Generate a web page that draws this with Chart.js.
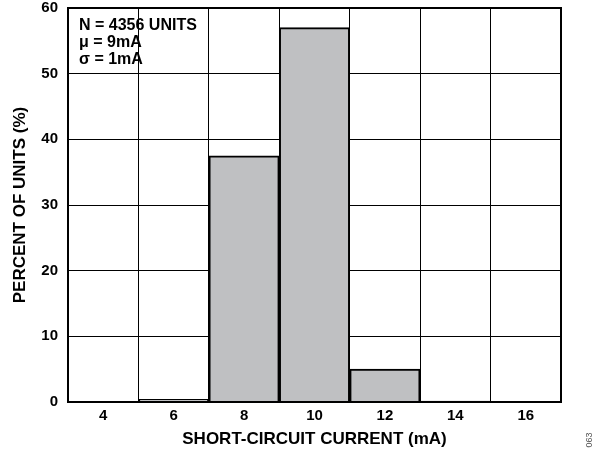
<!DOCTYPE html>
<html><head><meta charset="utf-8">
<script src="https://cdn.jsdelivr.net/npm/chart.js@4"></script>
<style>html,body{margin:0;padding:0;background:#fff}#w{width:605px;height:454px}</style>
</head><body><div id="w"><canvas id="c" width="605" height="454"></canvas></div>
<script>
const categories = ['4', '6', '8', '10', '12', '14', '16'];
const percentUnits = [0, 0.4, 37.5, 57, 5, 0.15, 0];
const yTicks = [0, 10, 20, 30, 40, 50, 60];
const noteLines = ['N = 4356 UNITS', 'μ = 9mA', 'σ = 1mA'];
const xTitle = 'SHORT-CIRCUIT CURRENT (mA)';
const yTitle = 'PERCENT OF UNITS (%)';
const figId = '063';

const FONT = "'Liberation Sans', Arial, sans-serif";

const extras = {
  id: 'extras',
  afterDraw(chart) {
    const ctx = chart.ctx, a = chart.chartArea;
    ctx.save();
    ctx.strokeStyle = '#000';
    ctx.lineWidth = 2;
    ctx.strokeRect(a.left, a.top, a.right - a.left, a.bottom - a.top);
    ctx.fillStyle = '#000';
    ctx.font = "bold 16px " + FONT;
    ctx.textBaseline = 'middle';
    ctx.textAlign = 'left';
    noteLines.forEach((t, i) => ctx.fillText(t, a.left + 11, a.top + 18 + i * 17));
    ctx.translate(590, 440);
    ctx.rotate(-Math.PI / 2);
    ctx.font = "9px " + FONT;
    ctx.fillStyle = '#555';
    ctx.textAlign = 'center';
    ctx.fillText(figId, 0, 0);
    ctx.restore();
  }
};

new Chart(document.getElementById('c'), {
  type: 'bar',
  data: {
    labels: categories,
    datasets: [{
      data: percentUnits,
      backgroundColor: '#bfc0c2',
      borderColor: '#000',
      borderWidth: 2,
      barPercentage: 1,
      categoryPercentage: 1
    }]
  },
  options: {
    responsive: false,
    animation: false,
    layout: { padding: { left: 0, right: 44, top: 8, bottom: 0 } },
    plugins: { legend: { display: false }, tooltip: { enabled: false } },
    scales: {
      x: {
        grid: { color: '#000', lineWidth: 1, drawTicks: false, offset: true },
        border: { display: false },
        ticks: { color: '#000', font: { family: FONT, size: 15, weight: 'bold' }, padding: 5 },
        title: { display: true, text: xTitle, color: '#000', font: { family: FONT, size: 17, weight: 'bold' }, padding: { top: 6, bottom: 4 } },
        afterFit(s) { s.height = 52; s.paddingLeft = 0; s.paddingRight = 0; }
      },
      y: {
        min: 0, max: 60,
        afterBuildTicks(s) { s.ticks = yTicks.map(v => ({ value: v })); },
        grid: { color: '#000', lineWidth: 1, drawTicks: false },
        border: { display: false },
        ticks: { color: '#000', font: { family: FONT, size: 15, weight: 'bold' }, padding: 10 },
        title: { display: true, text: yTitle, color: '#000', font: { family: FONT, size: 17, weight: 'bold' }, padding: { top: 10, bottom: 6 } },
        afterFit(s) { s.width = 68; s.paddingTop = 0; s.paddingBottom = 0; }
      }
    }
  },
  plugins: [extras]
});
</script></body></html>
